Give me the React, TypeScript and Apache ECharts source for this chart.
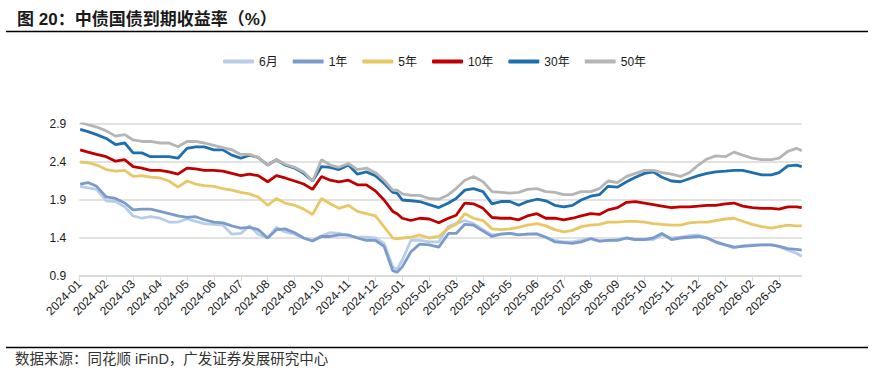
import React, { useEffect, useRef } from 'react';
import * as echarts from 'echarts';

const dates = [
  '2024-01-02', '2024-01-11', '2024-01-21',
  '2024-02-01', '2024-02-11', '2024-02-21',
  '2024-03-01', '2024-03-11', '2024-03-21',
  '2024-04-01', '2024-04-11', '2024-04-21',
  '2024-05-01', '2024-05-11', '2024-05-21',
  '2024-06-01', '2024-06-11', '2024-06-21',
  '2024-07-01', '2024-07-11', '2024-07-21',
  '2024-08-01', '2024-08-11', '2024-08-21',
  '2024-09-01', '2024-09-11', '2024-09-21',
  '2024-10-01', '2024-10-11', '2024-10-21',
  '2024-11-01', '2024-11-11', '2024-11-21',
  '2024-12-01', '2024-12-11', '2024-12-21', '2024-12-26',
  '2025-01-01', '2025-01-11', '2025-01-21',
  '2025-02-01', '2025-02-11', '2025-02-21',
  '2025-03-01', '2025-03-11', '2025-03-21',
  '2025-04-01', '2025-04-11', '2025-04-21',
  '2025-05-01', '2025-05-11', '2025-05-21',
  '2025-06-01', '2025-06-11', '2025-06-21',
  '2025-07-01', '2025-07-11', '2025-07-21',
  '2025-08-01', '2025-08-11', '2025-08-21',
  '2025-09-01', '2025-09-11', '2025-09-21',
  '2025-10-01', '2025-10-11', '2025-10-21',
  '2025-11-01', '2025-11-11', '2025-11-21',
  '2025-12-01', '2025-12-11', '2025-12-21',
  '2026-01-01', '2026-01-11', '2026-01-21',
  '2026-02-01', '2026-02-11', '2026-02-21',
  '2026-03-01', '2026-03-11', '2026-03-21', '2026-03-27',
];

const y6M = [
  2.08, 2.06, 2.04, 1.89, 1.88, 1.81, 1.69, 1.66, 1.68, 1.66, 1.61, 1.61,
  1.65, 1.62, 1.59, 1.58, 1.57, 1.45, 1.46, 1.56, 1.45, 1.40, 1.54, 1.48,
  1.45, 1.40, 1.37, 1.43, 1.47, 1.46, 1.43, 1.41, 1.41, 1.40, 1.33, 1.02, 0.99,
  1.11, 1.37, 1.37, 1.35, 1.35, 1.55, 1.59, 1.63, 1.59, 1.51, 1.44, 1.45,
  1.46, 1.44, 1.45, 1.46, 1.41, 1.37, 1.35, 1.35, 1.37, 1.40, 1.36, 1.37,
  1.38, 1.40, 1.38, 1.38, 1.38, 1.44, 1.40, 1.41, 1.43, 1.44, 1.40, 1.34,
  1.31, 1.27, 1.30, 1.31, 1.31, 1.31, 1.29, 1.24, 1.20, 1.16,
];

const y1Y = [
  2.11, 2.13, 2.08, 1.94, 1.92, 1.86, 1.77, 1.78, 1.78, 1.75, 1.72, 1.69,
  1.67, 1.68, 1.64, 1.61, 1.60, 1.56, 1.53, 1.54, 1.51, 1.40, 1.51, 1.52,
  1.47, 1.40, 1.36, 1.42, 1.42, 1.44, 1.44, 1.40, 1.37, 1.37, 1.29, 0.97, 0.95,
  1.02, 1.22, 1.32, 1.31, 1.28, 1.46, 1.46, 1.58, 1.57, 1.49, 1.42, 1.45,
  1.46, 1.44, 1.45, 1.45, 1.41, 1.35, 1.34, 1.33, 1.35, 1.39, 1.36, 1.37,
  1.37, 1.40, 1.38, 1.38, 1.40, 1.46, 1.38, 1.40, 1.41, 1.42, 1.40, 1.35,
  1.31, 1.28, 1.29, 1.30, 1.31, 1.31, 1.29, 1.26, 1.25, 1.24,
];

const y5Y = [
  2.40, 2.39, 2.36, 2.30, 2.28, 2.29, 2.21, 2.22, 2.20, 2.19, 2.15, 2.07,
  2.15, 2.11, 2.09, 2.08, 2.05, 2.03, 2.00, 1.98, 1.94, 1.83, 1.92, 1.86,
  1.83, 1.78, 1.71, 1.92, 1.85, 1.79, 1.83, 1.75, 1.72, 1.69, 1.55, 1.40, 1.39,
  1.40, 1.41, 1.44, 1.40, 1.42, 1.53, 1.58, 1.72, 1.66, 1.63, 1.52, 1.51,
  1.52, 1.54, 1.57, 1.59, 1.56, 1.51, 1.48, 1.50, 1.55, 1.57, 1.58, 1.61,
  1.61, 1.62, 1.62, 1.61, 1.59, 1.58, 1.57, 1.57, 1.60, 1.61, 1.61, 1.63,
  1.65, 1.66, 1.62, 1.58, 1.55, 1.53, 1.55, 1.57, 1.56, 1.56,
];

const y10Y = [
  2.56, 2.53, 2.50, 2.47, 2.41, 2.43, 2.34, 2.32, 2.29, 2.29, 2.27, 2.24,
  2.32, 2.31, 2.29, 2.29, 2.28, 2.25, 2.22, 2.24, 2.22, 2.14, 2.22, 2.19,
  2.15, 2.11, 2.04, 2.21, 2.16, 2.14, 2.16, 2.10, 2.10, 2.02, 1.90, 1.75, 1.72,
  1.66, 1.63, 1.66, 1.65, 1.60, 1.66, 1.70, 1.86, 1.85, 1.79, 1.67, 1.66,
  1.66, 1.64, 1.69, 1.72, 1.66, 1.66, 1.64, 1.66, 1.69, 1.72, 1.71, 1.77,
  1.80, 1.87, 1.88, 1.86, 1.84, 1.82, 1.80, 1.81, 1.81, 1.82, 1.83, 1.83,
  1.85, 1.86, 1.82, 1.80, 1.79, 1.79, 1.78, 1.81, 1.81, 1.80,
];

const y30Y = [
  2.83, 2.80, 2.76, 2.71, 2.63, 2.65, 2.52, 2.52, 2.47, 2.47, 2.47, 2.45,
  2.58, 2.60, 2.60, 2.56, 2.56, 2.49, 2.45, 2.49, 2.46, 2.36, 2.43, 2.36,
  2.32, 2.25, 2.15, 2.34, 2.33, 2.30, 2.36, 2.24, 2.27, 2.22, 2.12, 2.00, 1.99,
  1.90, 1.89, 1.88, 1.84, 1.80, 1.86, 1.92, 2.03, 2.05, 2.01, 1.85, 1.88,
  1.88, 1.83, 1.88, 1.91, 1.89, 1.83, 1.81, 1.83, 1.90, 1.95, 1.97, 2.08,
  2.07, 2.14, 2.20, 2.25, 2.27, 2.20, 2.15, 2.14, 2.18, 2.22, 2.25, 2.27,
  2.28, 2.29, 2.29, 2.26, 2.23, 2.23, 2.26, 2.35, 2.36, 2.34,
];

const y50Y = [
  2.92, 2.89, 2.86, 2.81, 2.74, 2.76, 2.69, 2.67, 2.67, 2.65, 2.65, 2.60,
  2.67, 2.67, 2.65, 2.62, 2.59, 2.56, 2.50, 2.50, 2.46, 2.36, 2.43, 2.37,
  2.33, 2.27, 2.15, 2.43, 2.36, 2.33, 2.38, 2.30, 2.32, 2.26, 2.16, 2.03, 2.03,
  1.98, 1.96, 1.96, 1.92, 1.91, 1.97, 2.05, 2.16, 2.21, 2.14, 2.01, 2.00,
  1.99, 2.00, 2.04, 2.05, 2.01, 2.00, 1.97, 1.97, 2.01, 2.01, 2.05, 2.15,
  2.13, 2.21, 2.25, 2.29, 2.29, 2.26, 2.24, 2.21, 2.26, 2.36, 2.44, 2.48,
  2.47, 2.53, 2.49, 2.45, 2.43, 2.43, 2.45, 2.54, 2.58, 2.55,
];

const monthLabels = [
  '2024-01', '2024-02', '2024-03', '2024-04', '2024-05', '2024-06',
  '2024-07', '2024-08', '2024-09', '2024-10', '2024-11', '2024-12',
  '2025-01', '2025-02', '2025-03', '2025-04', '2025-05', '2025-06',
  '2025-07', '2025-08', '2025-09', '2025-10', '2025-11', '2025-12',
  '2026-01', '2026-02', '2026-03',
];

const seriesNames = ['6月', '1年', '5年', '10年', '30年', '50年'];
const seriesColors = ['#b8cde9', '#7a9bcc', '#e8c766', '#c00000', '#1f6ead', '#b5b5b5'];
const seriesValues = [y6M, y1Y, y5Y, y10Y, y30Y, y50Y];

const FONT = '"Liberation Sans", Arial, "Noto Sans CJK SC", sans-serif';

// convert a date string to a fractional month index counted from 2024-01
function monthIndex(s: string): number {
  const [y, m, d] = s.split('-').map(Number);
  const dim = new Date(y, m, 0).getDate();
  return (y - 2024) * 12 + (m - 1) + (d - 1) / dim;
}

export default function App() {
  const ref = useRef<HTMLDivElement>(null);
  useEffect(() => {
    if (!ref.current) return;
    const chart = echarts.init(ref.current, null, { renderer: 'svg' });
    const xs = dates.map(monthIndex);
    const tickValues = monthLabels.map((_, i) => i);
    chart.setOption({
      animation: false,
      backgroundColor: '#ffffff',
      textStyle: { fontFamily: FONT },
      grid: { left: 79.3, right: 71.3, top: 124, bottom: 102, containLabel: false },
      legend: {
        data: seriesNames,
        left: 218,
        top: 50.5,
        icon: 'roundRect',
        itemWidth: 31,
        itemHeight: 4,
        itemGap: 15,
        textStyle: { fontSize: 12, color: '#1a1a1a', fontFamily: FONT },
      },
      xAxis: {
        type: 'value',
        min: 0,
        max: xs[xs.length - 1],
        interval: 1,
        splitLine: { show: false },
        axisLine: { show: true, lineStyle: { color: '#d9d9d9', width: 1.5 } },
        axisTick: { show: true, length: 5, lineStyle: { color: '#d9d9d9', width: 1 }, customValues: tickValues },
        axisLabel: {
          rotate: 45,
          margin: 6,
          fontSize: 12,
          color: '#1a1a1a',
          fontFamily: FONT,
          customValues: tickValues,
          formatter: (v: number) => (Number.isInteger(v) && monthLabels[v]) ? monthLabels[v] : '',
        },
      },
      yAxis: {
        type: 'value',
        min: 0.9,
        max: 2.9,
        interval: 0.5,
        axisLine: { show: false },
        axisTick: { show: false },
        axisLabel: {
          fontSize: 12,
          color: '#1a1a1a',
          margin: 13,
          fontFamily: FONT,
          formatter: (v: number) => v.toFixed(1),
        },
        splitLine: { show: true, lineStyle: { color: '#d9d9d9', width: 1.5 } },
      },
      series: seriesNames.map((name, i) => ({
        name,
        type: 'line',
        showSymbol: false,
        symbol: 'none',
        color: seriesColors[i],
        lineStyle: { width: 2.8, color: seriesColors[i] },
        data: xs.map((x, j) => [x, seriesValues[i][j]]),
        z: 2 + i,
      })),
      graphic: [
        {
          type: 'text',
          x: 17,
          y: 19,
          style: {
            text: '图 20：中债国债到期收益率（%）',
            font: 'bold 17px ' + FONT,
            fill: '#1a1a1a',
            verticalAlign: 'middle',
          },
        },
        {
          type: 'line',
          shape: { x1: 6, y1: 31.5, x2: 868, y2: 31.5 },
          style: { stroke: '#000000', lineWidth: 1.5 },
        },
        {
          type: 'line',
          shape: { x1: 6, y1: 347.5, x2: 868, y2: 347.5 },
          style: { stroke: '#000000', lineWidth: 1.5 },
        },
        {
          type: 'text',
          x: 15,
          y: 359,
          style: {
            text: '数据来源：同花顺 iFinD，广发证券发展研究中心',
            font: '14.5px ' + FONT,
            fill: '#333333',
            verticalAlign: 'middle',
          },
        },
      ],
    });
    return () => chart.dispose();
  }, []);
  return <div ref={ref} style={{ position: 'fixed', left: 0, top: 0, width: 873, height: 378 }} />;
}
